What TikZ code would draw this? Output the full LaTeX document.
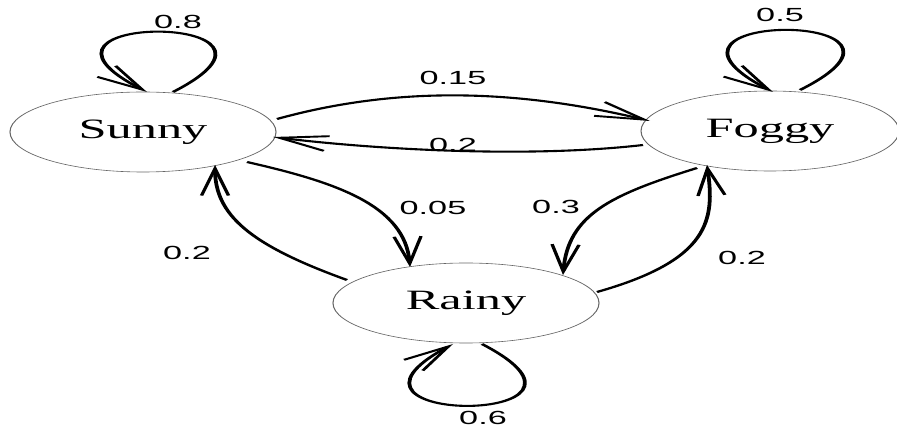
\documentclass[tikz,border=0pt]{standalone}
\usepackage{fontspec}
\setmainfont{Liberation Serif}
\newfontfamily\labelfont{Liberation Sans}
\usetikzlibrary{shapes.geometric,arrows.meta}
\begin{document}
\begin{tikzpicture}[x=1pt,y=-1pt]
\useasboundingbox (0,0) rectangle (897,427);
% the whole drawing is widened 1.8 times; x units are set so that coordinates stay in final units
\begin{scope}[transform canvas={xscale=1.8},x=0.55556pt,y=-1pt,
  state/.style={ellipse,draw=black!60,line width=0.6pt,minimum width=147.8pt,minimum height=80pt,inner sep=0pt,
    font=\fontsize{28}{28}\selectfont},
  trans/.style={line width=2.1pt,-{Straight Barb[length=27pt,width=15pt,line width=1.9pt]}},
  prob/.style={font=\labelfont\fontsize{19}{19}\selectfont,inner sep=0pt}]

% states
\node[state] (S) at (143,132) {Sunny};
\node[state,minimum width=143.3pt] (F) at (770,131) {Foggy};
\node[state] (R) at (466,303) {Rainy};

% attachment points on the ellipses
\coordinate (s1) at (173,92);  \coordinate (s2) at (147,92);
\coordinate (f1) at (800,90);  \coordinate (f2) at (773,92);
\coordinate (r1) at (482,344); \coordinate (r2) at (453,344);
\coordinate (sa) at (277,119); \coordinate (fa) at (650,121);
\coordinate (fb) at (643,145); \coordinate (sb) at (273,137);
\coordinate (sc) at (247,162); \coordinate (rc) at (410,267);
\coordinate (rd) at (347,280); \coordinate (sd) at (215,165);
\coordinate (fe) at (697,168); \coordinate (re) at (563,275);
\coordinate (rf) at (597,292); \coordinate (ff) at (707,165);

% self loops
\draw[trans] (s1) .. controls (330,12) and (-10,12) .. (s2);
\draw[trans] (f1) .. controls (960,10) and (615,10) .. (f2);
\draw[trans] (r1) .. controls (640,426) and (300,426) .. (r2);

% transitions between states
\draw[trans] (sa) .. controls (400,85) and (520,90) .. (fa);
\draw[trans] (fb) .. controls (530,158) and (380,150) .. (sb);
\draw[trans] (sc) .. controls (335,182) and (405,205) .. (rc);
\draw[trans] (rd) .. controls (250,245) and (215,215) .. (sd);
\draw[trans] (fe) .. controls (610,195) and (568,215) .. (re);
\draw[trans] (rf) .. controls (710,260) and (715,220) .. (ff);

% probabilities
\node[prob] (p1) at (178,22) {0.8};
\node[prob] (p2) at (780,15) {0.5};
\node[prob] (p3) at (483,418) {0.6};
\node[prob] (p4) at (453,78) {0.15};
\node[prob] (p5) at (453,145) {0.2};
\node[prob] (p6) at (433,208) {0.05};
\node[prob] (p7) at (556,207) {0.3};
\node[prob] (p8) at (187,253) {0.2};
\node[prob] (p9) at (742,258) {0.2};
\end{scope}
\end{tikzpicture}
\end{document}
